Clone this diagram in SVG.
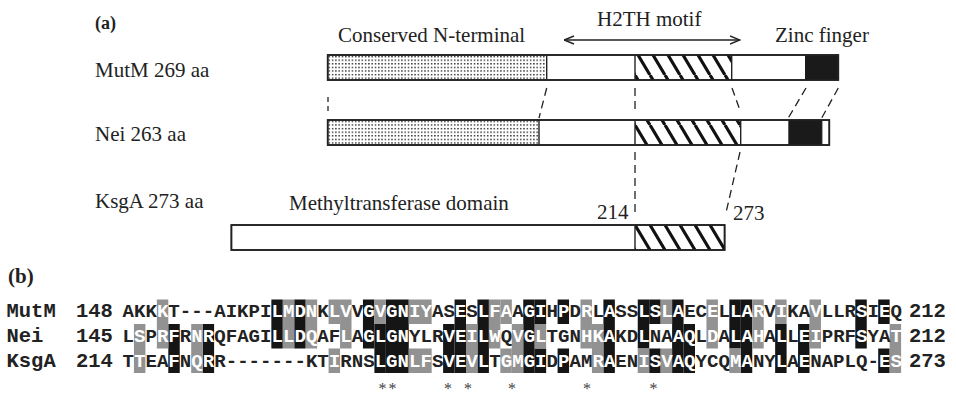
<svg xmlns="http://www.w3.org/2000/svg" width="956" height="397" viewBox="0 0 956 397">
<style>
.serif{font-family:"Liberation Serif","Times New Roman",serif;font-size:21px;fill:#222}
.bar{fill:#fff;stroke:#222;stroke-width:1.6}
.frame{fill:none;stroke:#222;stroke-width:1.6}
.div{stroke:#222;stroke-width:1.4;fill:none}
.dash{stroke:#222;stroke-width:1.3;stroke-dasharray:8 5;fill:none}
.mono{font-family:"Liberation Mono","Courier New",monospace;font-weight:bold;font-size:19.1px;fill:#222}
.lab{font-family:"Liberation Mono","Courier New",monospace;font-weight:bold;font-size:20.5px;fill:#222}
.w{fill:#fff}
.bk{fill:#151515}
.gr{fill:#929292}
.zn{fill:#1a1a1a}
.ast{font-family:"Liberation Serif","Times New Roman",serif;font-size:16px;fill:#444;text-anchor:middle}
</style>
<defs>
<pattern id="dots" patternUnits="userSpaceOnUse" width="3.3" height="3.6" x="327.7" y="55">
<rect x="0.9" y="0.9" width="1.4" height="1.4" fill="#222"/>
</pattern>
<pattern id="hatch" patternUnits="userSpaceOnUse" width="15" height="25" x="635" y="0">
<path d="M-15,0 L0,25 M0,0 L15,25 M15,0 L30,25" stroke="#111" stroke-width="3.2"/>
</pattern>
<marker id="arr" viewBox="0 0 11 10" refX="10.5" refY="5" markerWidth="11" markerHeight="10" markerUnits="userSpaceOnUse" orient="auto-start-reverse">
<path d="M0.5,1 L10.5,5 L0.5,9" fill="none" stroke="#222" stroke-width="1.4"/>
</marker>
</defs>

<text class="serif" x="95" y="29" style="font-size:18px;font-weight:bold">(a)</text>
<text class="serif" x="8" y="283" style="font-weight:bold">(b)</text>

<g id="labels">
<text class="serif" x="338" y="42">Conserved N-terminal</text>
<text class="serif" x="597" y="26">H2TH motif</text>
<text class="serif" x="775" y="42">Zinc finger</text>
<text class="serif" x="289" y="210">Methyltransferase domain</text>
<text class="serif" x="597" y="219">214</text>
<text class="serif" x="733" y="220">273</text>
</g>

<g id="mutm">
<text class="serif" x="95" y="77">MutM 269 aa</text>
<rect class="bar" x="327.7" y="55" width="510.6" height="25"/>
<rect x="327.7" y="55" width="219" height="25" fill="url(#dots)"/>
<rect x="635" y="55" width="96.7" height="25" fill="url(#hatch)"/>
<rect class="zn" x="805" y="55" width="33.3" height="25"/>
<path class="div" d="M546.7,55V80 M635,55V80 M731.7,55V80"/>
<rect class="frame" x="327.7" y="55" width="510.6" height="25"/>
</g>

<g id="nei">
<text class="serif" x="95" y="141">Nei 263 aa</text>
<rect class="bar" x="327.7" y="120" width="501.6" height="25"/>
<rect x="327.7" y="120" width="211.3" height="25" fill="url(#dots)"/>
<rect x="635" y="120" width="105.7" height="25" fill="url(#hatch)"/>
<rect class="zn" x="788.3" y="120" width="33.4" height="25"/>
<path class="div" d="M539,120V145 M635,120V145 M740.7,120V145 M821.7,120V145"/>
<rect class="frame" x="327.7" y="120" width="501.6" height="25"/>
</g>

<g id="ksga">
<text class="serif" x="95" y="208">KsgA 273 aa</text>
<rect class="bar" x="231.4" y="225" width="493.2" height="25"/>
<rect x="635" y="225" width="89.6" height="25" fill="url(#hatch)"/>
<path class="div" d="M635,225V250"/>
<rect class="frame" x="231.4" y="225" width="493.2" height="25"/>
</g>

<g id="connectors">
<line class="dash" x1="328" y1="97" x2="328" y2="111" style="stroke-dasharray:5 4"/>
<line class="dash" x1="546.7" y1="88" x2="539" y2="118"/>
<line class="dash" x1="635" y1="88" x2="635" y2="109"/>
<line class="dash" x1="732" y1="88" x2="739.5" y2="109"/>
<line class="dash" x1="806" y1="88" x2="788.3" y2="118"/>
<line class="dash" x1="838.3" y1="88" x2="821.7" y2="118"/>
<line class="dash" x1="635" y1="152" x2="635" y2="217"/>
<line class="dash" x1="740" y1="152" x2="725.7" y2="214"/>
<line x1="564" y1="40" x2="740" y2="40" stroke="#222" stroke-width="1.5" marker-start="url(#arr)" marker-end="url(#arr)"/>
</g>

<g id="alignment">
<g transform="translate(122.5 0) scale(11.45 1)">
<rect class="bk" x="4" y="324" width="1" height="49"/>
<rect class="bk" x="7" y="324" width="1" height="49"/>
<rect class="bk" x="13" y="299.5" width="1" height="49"/>
<rect class="bk" x="15" y="299.5" width="1" height="49"/>
<rect class="bk" x="21" y="299.5" width="1" height="49"/>
<rect class="bk" x="22" y="324" width="1" height="49"/>
<rect class="bk" x="23" y="299.5" width="2" height="73.5"/>
<rect class="bk" x="28" y="324" width="1" height="49"/>
<rect class="bk" x="29" y="299.5" width="1" height="73.5"/>
<rect class="bk" x="31" y="299.5" width="1" height="73.5"/>
<rect class="bk" x="35" y="299.5" width="1" height="73.5"/>
<rect class="bk" x="36" y="299.5" width="1" height="24.5"/>
<rect class="bk" x="36" y="348.5" width="1" height="24.5"/>
<rect class="bk" x="38" y="299.5" width="1" height="24.5"/>
<rect class="bk" x="38" y="348.5" width="1" height="24.5"/>
<rect class="bk" x="42" y="299.5" width="1" height="73.5"/>
<rect class="bk" x="45" y="299.5" width="1" height="49"/>
<rect class="bk" x="46" y="299.5" width="1" height="24.5"/>
<rect class="bk" x="46" y="348.5" width="1" height="24.5"/>
<rect class="bk" x="48" y="299.5" width="1" height="73.5"/>
<rect class="bk" x="49" y="324" width="1" height="49"/>
<rect class="bk" x="53" y="299.5" width="1" height="49"/>
<rect class="bk" x="54" y="299.5" width="1" height="73.5"/>
<rect class="bk" x="57" y="324" width="1" height="49"/>
<rect class="bk" x="59" y="324" width="1" height="49"/>
<rect class="bk" x="64" y="299.5" width="1" height="49"/>
<rect class="bk" x="66" y="299.5" width="1" height="24.5"/>
<rect class="bk" x="66" y="348.5" width="1" height="24.5"/>

<rect class="gr" x="1" y="324" width="1" height="49"/>
<rect class="gr" x="3" y="299.5" width="1" height="49"/>
<rect class="gr" x="6" y="324" width="1" height="49"/>
<rect class="gr" x="14" y="299.5" width="1" height="49"/>
<rect class="gr" x="16" y="299.5" width="1" height="49"/>
<rect class="gr" x="18" y="299.5" width="1" height="24.5"/>
<rect class="gr" x="18" y="348.5" width="1" height="24.5"/>
<rect class="gr" x="19" y="299.5" width="1" height="49"/>
<rect class="gr" x="22" y="299.5" width="1" height="24.5"/>
<rect class="gr" x="25" y="299.5" width="2" height="24.5"/>
<rect class="gr" x="25" y="348.5" width="2" height="24.5"/>
<rect class="gr" x="30" y="324" width="1" height="49"/>
<rect class="gr" x="32" y="299.5" width="1" height="49"/>
<rect class="gr" x="33" y="299.5" width="1" height="24.5"/>
<rect class="gr" x="33" y="348.5" width="1" height="24.5"/>
<rect class="gr" x="34" y="324" width="1" height="49"/>
<rect class="gr" x="36" y="324" width="1" height="24.5"/>
<rect class="gr" x="40" y="299.5" width="1" height="49"/>
<rect class="gr" x="41" y="324" width="1" height="49"/>
<rect class="gr" x="45" y="348.5" width="1" height="24.5"/>
<rect class="gr" x="47" y="299.5" width="1" height="24.5"/>
<rect class="gr" x="47" y="348.5" width="1" height="24.5"/>
<rect class="gr" x="51" y="299.5" width="1" height="49"/>
<rect class="gr" x="53" y="348.5" width="1" height="24.5"/>
<rect class="gr" x="55" y="299.5" width="1" height="49"/>
<rect class="gr" x="57" y="299.5" width="1" height="24.5"/>
<rect class="gr" x="60" y="299.5" width="1" height="49"/>
<rect class="gr" x="67" y="324" width="1" height="49"/>
</g>

<text class="lab" x="6.5" y="317">MutM</text>
<text class="lab" x="76" y="317">148</text>
<text class="mono" x="122.5" y="317">AKK<tspan class="w">K</tspan>T---AIKPI<tspan class="w">LMDN</tspan>K<tspan class="w">LV</tspan>V<tspan class="w">GVGNIY</tspan>AS<tspan class="w">E</tspan>S<tspan class="w">LFA</tspan>A<tspan class="w">GI</tspan>H<tspan class="w">P</tspan>D<tspan class="w">R</tspan>L<tspan class="w">A</tspan>SS<tspan class="w">LSLA</tspan>EC<tspan class="w">E</tspan>L<tspan class="w">LAR</tspan>V<tspan class="w">I</tspan>KA<tspan class="w">V</tspan>LLR<tspan class="w">S</tspan>I<tspan class="w">E</tspan>Q</text>
<text class="lab" x="909" y="317">212</text>

<text class="lab" x="6.5" y="342">Nei</text>
<text class="lab" x="76" y="342">145</text>
<text class="mono" x="122.5" y="342">L<tspan class="w">S</tspan>P<tspan class="w">RF</tspan>R<tspan class="w">NR</tspan>QFAGI<tspan class="w">LLDQ</tspan>AF<tspan class="w">L</tspan>A<tspan class="w">GLGN</tspan>YLR<tspan class="w">VEILW</tspan>Q<tspan class="w">VGL</tspan>TGN<tspan class="w">HKA</tspan>KD<tspan class="w">L</tspan>NA<tspan class="w">AQ</tspan>L<tspan class="w">D</tspan>A<tspan class="w">LAH</tspan>A<tspan class="w">L</tspan>L<tspan class="w">EI</tspan>PRF<tspan class="w">S</tspan>YA<tspan class="w">T</tspan></text>
<text class="lab" x="909" y="342">212</text>

<text class="lab" x="6.5" y="366.5">KsgA</text>
<text class="lab" x="76" y="366.5">214</text>
<text class="mono" x="122.5" y="366.5">T<tspan class="w">T</tspan>EA<tspan class="w">F</tspan>N<tspan class="w">QR</tspan>R-------KT<tspan class="w">I</tspan>RNS<tspan class="w">LGNLF</tspan>S<tspan class="w">VEVL</tspan>T<tspan class="w">GMGI</tspan>D<tspan class="w">P</tspan>AM<tspan class="w">RA</tspan>EN<tspan class="w">ISVAQ</tspan>YCQ<tspan class="w">MA</tspan>NY<tspan class="w">L</tspan>A<tspan class="w">E</tspan>NAPLQ-<tspan class="w">ES</tspan></text>
<text class="lab" x="909" y="366.5">273</text>

<text class="ast" x="382.5" y="393.5">*</text>
<text class="ast" x="392.5" y="393.5">*</text>
<text class="ast" x="448" y="393.5">*</text>
<text class="ast" x="468" y="393.5">*</text>
<text class="ast" x="512" y="393.5">*</text>
<text class="ast" x="587" y="393.5">*</text>
<text class="ast" x="653.5" y="393.5">*</text>
</g>
</svg>
